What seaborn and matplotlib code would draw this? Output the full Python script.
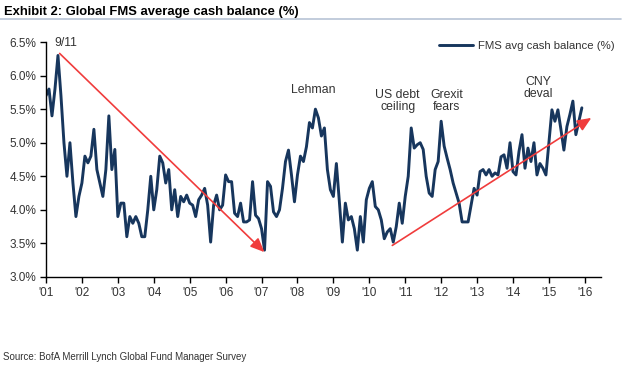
import matplotlib
matplotlib.use("Agg")
import matplotlib.pyplot as plt
import seaborn as sns
import pandas as pd
import numpy as np

# monthly FMS average cash balance (%), Jan 2001 - Dec 2015
cash_2001 = [5.7, 5.8, 5.4, 5.8, 6.3, 5.7, 5.0, 4.5, 5.0, 4.4, 3.9, 4.2]
cash_2002 = [4.4, 4.8, 4.7, 4.8, 5.2, 4.6, 4.4, 4.2, 4.6, 5.4, 4.6, 4.9]
cash_2003 = [3.9, 4.1, 4.1, 3.6, 3.9, 3.8, 3.9, 3.8, 3.6, 3.6, 4.0, 4.5]
cash_2004 = [4.0, 4.3, 4.8, 4.7, 4.4, 4.6, 4.0, 4.3, 3.9, 4.2, 4.12, 4.22]
cash_2005 = [4.1, 4.07, 3.9, 4.15, 4.22, 4.32, 4.07, 3.52, 4.07, 4.22, 4.0, 4.07]
cash_2006 = [4.52, 4.42, 4.42, 3.95, 3.9, 4.1, 3.82, 3.82, 3.85, 4.42, 3.92, 3.87]
cash_2007 = [3.72, 3.4, 4.42, 4.35, 3.97, 3.9, 4.0, 4.32, 4.72, 4.89, 4.52, 4.12]
cash_2008 = [4.52, 4.8, 4.72, 4.94, 5.3, 5.22, 5.5, 5.37, 5.1, 5.22, 4.6, 4.3]
cash_2009 = [4.2, 4.69, 4.12, 3.52, 4.1, 3.85, 3.9, 3.72, 3.4, 3.9, 3.52, 4.15]
cash_2010 = [4.32, 4.42, 4.05, 4.0, 3.85, 3.57, 3.67, 3.72, 3.52, 3.75, 4.1, 3.8]
cash_2011 = [4.2, 4.5, 5.22, 4.92, 4.97, 5.0, 4.9, 4.5, 4.25, 4.2, 4.6, 4.72]
cash_2012 = [5.32, 4.95, 4.77, 4.6, 4.4, 4.25, 4.1, 3.82, 3.82, 3.82, 4.07, 4.32]
cash_2013 = [4.22, 4.57, 4.6, 4.52, 4.6, 4.5, 4.55, 4.52, 4.79, 4.82, 4.62, 5.0]
cash_2014 = [4.57, 4.52, 4.87, 5.12, 4.62, 4.92, 4.72, 5.0, 4.52, 4.69, 4.62, 4.52]
cash_2015 = [5.0, 5.49, 5.32, 5.49, 5.2, 4.89, 5.24, 5.42, 5.62, 5.12, 5.32, 5.52]

years = list(range(2001, 2016))
tick_years = list(range(2001, 2017))
tick_labels = ["'%02d" % (y % 100) for y in tick_years]

# hand-drawn trend arrows (start year, start value, end year, end value)
arrow_down = (2001.38, 6.33, 2007.08, 3.37)
arrow_up = (2010.64, 3.47, 2016.18, 5.37)

# event labels (year, value, text)
events = [
    (2001.56, 6.49, "9/11"),
    (2008.44, 5.79, "Lehman"),
    (2010.79, 5.62, "US debt\nceiling"),
    (2012.15, 5.62, "Grexit\nfears"),
    (2014.70, 5.81, "CNY\ndeval"),
]

cash = (cash_2001 + cash_2002 + cash_2003 + cash_2004 + cash_2005 + cash_2006
        + cash_2007 + cash_2008 + cash_2009 + cash_2010 + cash_2011 + cash_2012
        + cash_2013 + cash_2014 + cash_2015)
df = pd.DataFrame({
    "date": [y + m / 12 for y in years for m in range(12)],
    "cash": cash,
})

sns.set_theme(style="white")
plt.rcParams["font.family"] = ["Liberation Sans", "DejaVu Sans"]

navy = "#17365d"
red = "#f03c3c"
txt = "#333333"

fig = plt.figure(figsize=(6.3, 3.7), dpi=100)
ax = fig.add_axes([0.073, 0.2514, 0.881, 0.635])

sns.lineplot(data=df, x="date", y="cash", ax=ax, color=navy, linewidth=2.1,
             label="FMS avg cash balance (%)")

for x0, y0, x1, y1 in [arrow_down, arrow_up]:
    ax.annotate("", xy=(x1, y1), xytext=(x0, y0),
                arrowprops=dict(arrowstyle="-|>,head_length=0.7,head_width=0.3",
                                color=red, lw=1.2, shrinkA=0, shrinkB=0))

for ex, ey, label in events:
    ax.text(ex, ey, label, ha="center", va="center", fontsize=8.8,
            color=txt, linespacing=1.0)

ax.set_xlim(2001, 2016.45)
ax.set_ylim(3.0, 6.5)
ax.set_xticks(tick_years)
ax.set_xticklabels(tick_labels)
ax.set_yticks(np.arange(3.0, 6.51, 0.5))
ax.set_yticklabels(["%.1f%%" % v for v in np.arange(3.0, 6.51, 0.5)])
ax.set_xlabel("")
ax.set_ylabel("")
ax.tick_params(axis="both", which="major", length=4, width=1, color="black",
               labelsize=8.5, labelcolor=txt, direction="out", pad=3)
ax.tick_params(axis="x", bottom=True)
ax.tick_params(axis="y", left=True)
for side in ["top", "right"]:
    ax.spines[side].set_visible(False)
for side in ["left", "bottom"]:
    ax.spines[side].set_color("black")
    ax.spines[side].set_linewidth(1.0)

leg = ax.legend(loc="upper right", frameon=False, fontsize=8.2,
                handlelength=3.0, handletextpad=0.4,
                bbox_to_anchor=(1.032, 1.025), borderaxespad=0)
for t in leg.get_texts():
    t.set_color(txt)

fig.text(0.006, 0.968, "Exhibit 2: Global FMS average cash balance (%)",
         fontsize=9.4, fontweight="bold", color="black", va="center", ha="left")
fig.add_artist(plt.Line2D([0.0, 0.985], [0.95, 0.95], color="#b7c4d6",
                          linewidth=1.2, transform=fig.transFigure))
fig.text(0.005, 0.035, "Source: BofA Merrill Lynch Global Fund Manager Survey",
         fontsize=7.0, color=txt, va="center", ha="left")

fig.savefig("out.png", dpi=100)
